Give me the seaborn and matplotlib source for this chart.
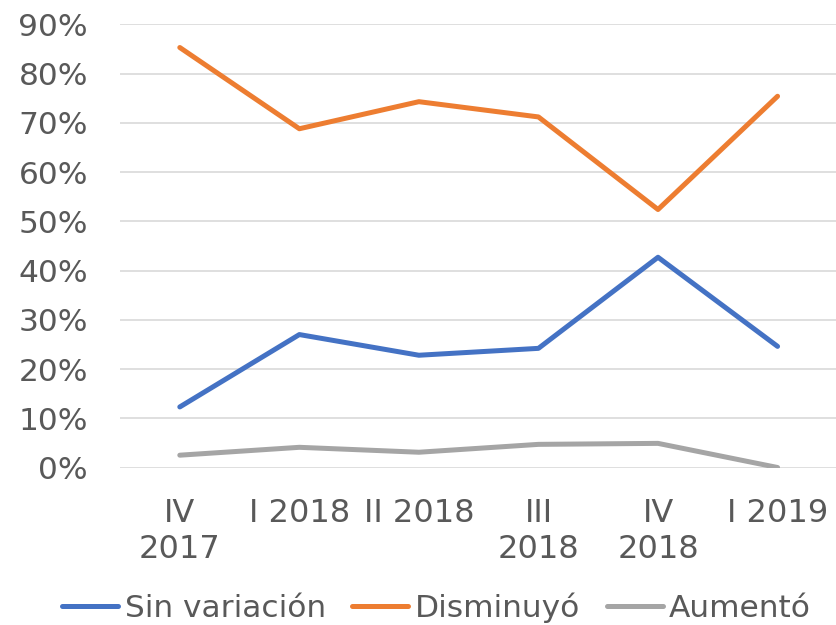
import matplotlib
matplotlib.use('Agg')
import matplotlib.pyplot as plt
import seaborn as sns
import pandas as pd
from matplotlib.ticker import PercentFormatter

# Data
quarters = ['IV\n2017', 'I 2018', 'II 2018', 'III\n2018', 'IV\n2018', 'I 2019']
sin_variacion = [0.123, 0.270, 0.228, 0.242, 0.427, 0.246]
disminuyo = [0.853, 0.688, 0.743, 0.712, 0.524, 0.754]
aumento = [0.025, 0.041, 0.031, 0.047, 0.049, 0.000]

series_names = ['Sin variación', 'Disminuyó', 'Aumentó']
colors = ['#4472C4', '#ED7D31', '#A5A5A5']

df = pd.DataFrame({
    'trimestre': quarters * 3,
    'valor': sin_variacion + disminuyo + aumento,
    'serie': [s for s in series_names for _ in quarters],
})

sns.set_style('white')
plt.rcParams['font.family'] = ['DejaVu Sans']
text_color = '#595959'

fig = plt.figure(figsize=(8.37, 6.25), dpi=100)
ax = fig.add_axes([0.1434, 0.252, 0.857, 0.709])

sns.lineplot(
    data=df, x='trimestre', y='valor', hue='serie',
    hue_order=series_names, palette=colors,
    linewidth=3.6, sort=False, legend=False, ax=ax,
)
for line in ax.lines:
    line.set_solid_capstyle('round')
    line.set_solid_joinstyle('round')

ax.set_xlim(-0.5, 5.5)
ax.set_ylim(0, 0.9)
ax.set_yticks([i / 10 for i in range(10)])
ax.yaxis.set_major_formatter(PercentFormatter(1.0, decimals=0))
ax.grid(axis='y', color='#D9D9D9', linewidth=1.2)
ax.set_axisbelow(True)
ax.set_xlabel('')
ax.set_ylabel('')
ax.tick_params(axis='y', length=0, pad=23, labelsize=22.5, labelcolor=text_color)
ax.tick_params(axis='x', length=0, pad=22, labelsize=23, labelcolor=text_color)
for lab in ax.get_xticklabels():
    lab.set_linespacing(1.2)
sns.despine(ax=ax, left=True, bottom=True)

handles = [plt.Line2D([], [], color=c, linewidth=3.6, solid_capstyle='round') for c in colors]
fig.legend(
    handles, series_names, loc='center', bbox_to_anchor=(0.5215, 0.027),
    ncol=3, frameon=False, fontsize=22.5, labelcolor=text_color,
    handlelength=1.8, handletextpad=0.2, columnspacing=0.85,
)

fig.savefig('out.png', dpi=100)
